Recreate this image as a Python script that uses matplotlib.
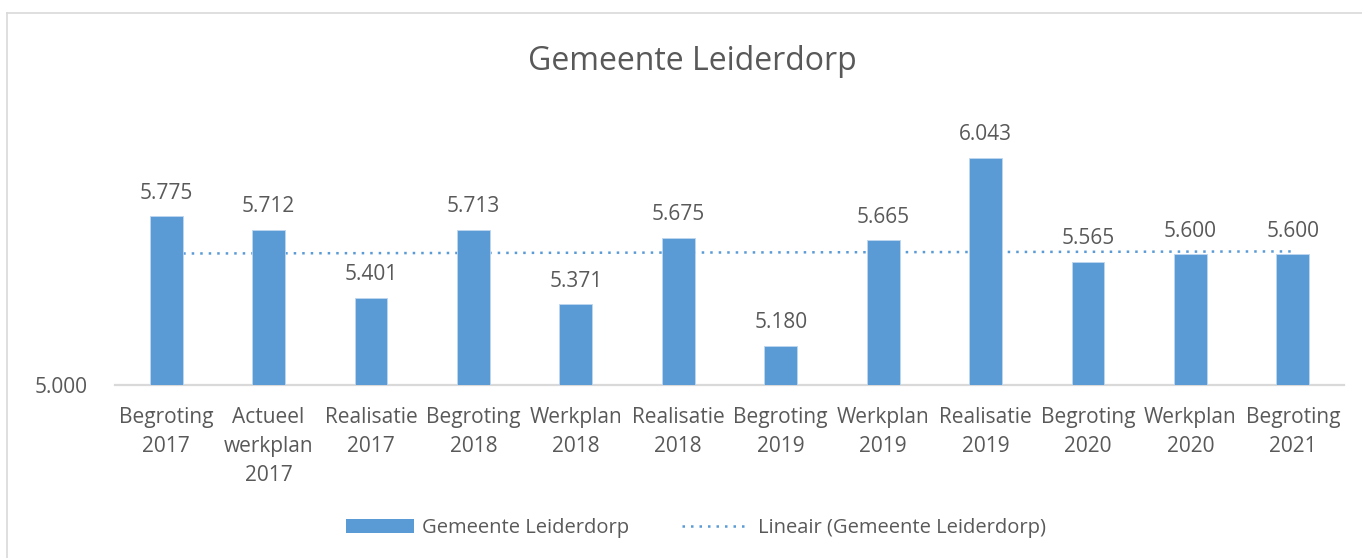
import matplotlib
matplotlib.use("Agg")
import matplotlib.pyplot as plt
from matplotlib.patches import Patch
from matplotlib.lines import Line2D
import numpy as np

# categories (two-line labels as in the original)
categories = [
    "Begroting\n2017", "Actueel\nwerkplan\n2017", "Realisatie\n2017",
    "Begroting\n2018", "Werkplan\n2018", "Realisatie\n2018",
    "Begroting\n2019", "Werkplan\n2019", "Realisatie\n2019",
    "Begroting\n2020", "Werkplan\n2020", "Begroting\n2021",
]
values = [5.775, 5.712, 5.401, 5.713, 5.371, 5.675,
          5.180, 5.665, 6.043, 5.565, 5.600, 5.600]
y_tick_values = [5.0]
y_tick_labels = ["5.000"]

series_name = "Gemeente Leiderdorp"
trend_name = "Lineair (Gemeente Leiderdorp)"

bar_col = "#5B9BD5"
txt_col = "#595959"
grid_col = "#D9D9D9"

plt.rcParams["font.family"] = ["Open Sans", "DejaVu Sans"]

W, H = 1362, 558
fig = plt.figure(figsize=(W / 100, H / 100), dpi=100)

# axes box in pixel terms (left, bottom, right, top)
left, right = 115, 1344
bottom, top = 385, 80
ax = fig.add_axes([left / W, 1 - bottom / H, (right - left) / W, (bottom - top) / H])

x = np.arange(len(categories))
ax.bar(x, values, width=0.32, color=bar_col, edgecolor="#BDD7EE",
       linewidth=0.6, zorder=3)

# linear trend line through the data
coef = np.polyfit(x, values, 1)
ax.plot(x, np.polyval(coef, x), color=bar_col, lw=1.8,
        linestyle=(0, (1, 2.4)), zorder=2)

for xi, v in zip(x, values):
    ax.annotate(f"{v:.3f}", (xi, v), xytext=(0, 9), textcoords="offset points",
                ha="center", va="bottom", fontsize=15, color=txt_col)

ax.set_xlim(-0.5, len(categories) - 0.5)
ax.set_ylim(5.0, 6.4)
ax.set_xticks(x)
ax.set_xticklabels(categories, fontsize=15, color=txt_col, linespacing=1.48)
ax.set_yticks(y_tick_values)
ax.set_yticklabels(y_tick_labels, fontsize=15, color=txt_col)
ax.tick_params(axis="both", length=0)
ax.tick_params(axis="x", pad=16)
ax.tick_params(axis="y", pad=20)

for s in ["top", "right", "left"]:
    ax.spines[s].set_visible(False)
ax.spines["bottom"].set_color(grid_col)
ax.spines["bottom"].set_linewidth(1.6)

fig.text(692 / W, 1 - 61 / H, "Gemeente Leiderdorp", ha="center", va="center",
         fontsize=23, color=txt_col)

handles = [Patch(facecolor=bar_col, edgecolor="none"),
           Line2D([0], [0], color=bar_col, lw=1.8, linestyle=(0, (1, 2.4)))]
fig.legend(handles, [series_name, trend_name], loc="center",
           bbox_to_anchor=(696 / W, 1 - 528 / H), ncol=2, frameon=False,
           fontsize=14.5, labelcolor=txt_col, handlelength=3.4,
           handletextpad=0.4, columnspacing=2.6)

# chart border (top and left edges visible in the original)
fig.add_artist(Line2D([7 / W, 1], [1 - 13 / H, 1 - 13 / H], color=grid_col, lw=1.2,
                      transform=fig.transFigure))
fig.add_artist(Line2D([7 / W, 7 / W], [0, 1 - 13 / H], color=grid_col, lw=1.2,
                      transform=fig.transFigure))

fig.savefig("out.png", dpi=100)
